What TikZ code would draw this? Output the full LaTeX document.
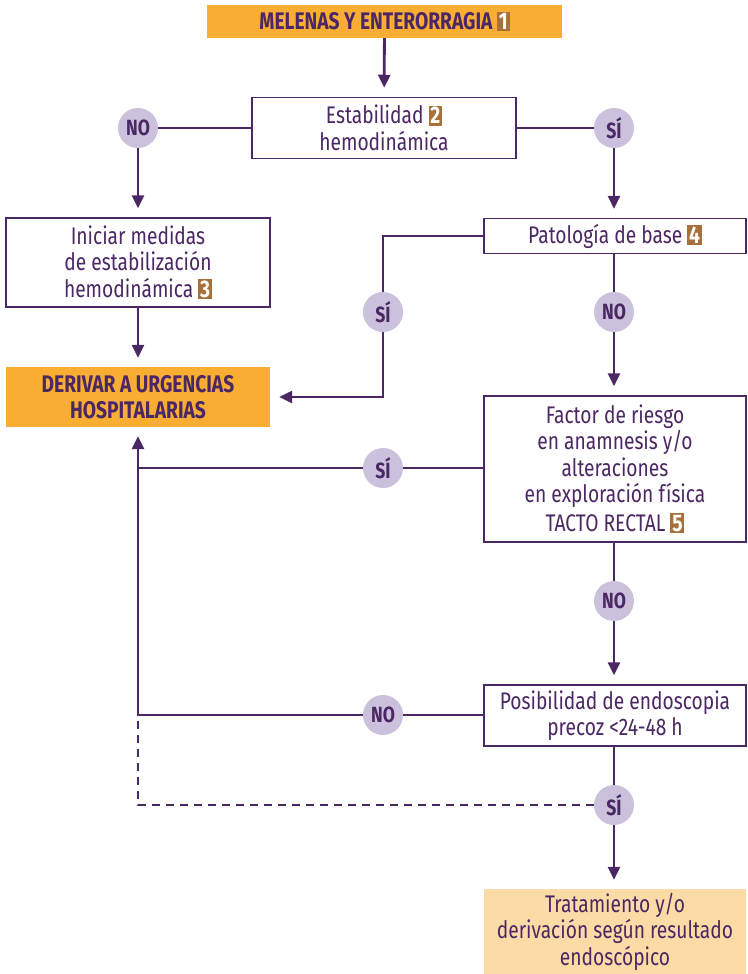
\documentclass[tikz,border=0pt]{standalone}
\usepackage{fontspec}
\setmainfont{Fira Sans}[FakeStretch=0.8,BoldFeatures={FakeStretch=0.8}]
\usetikzlibrary{arrows.meta}
\definecolor{ink}{HTML}{4B2763}
\definecolor{orangebox}{HTML}{F9AE33}
\definecolor{paleorange}{HTML}{FDDBA6}
\definecolor{lavender}{HTML}{CBC1DD}
\definecolor{badgebrown}{HTML}{A8703A}
\newcommand{\badge}[1]{{\setlength{\fboxsep}{1.8pt}\colorbox{badgebrown}{\textcolor{white}{\bfseries #1}}}}
\begin{document}
\begin{tikzpicture}[x=1pt,y=-1pt,
  every node/.style={font=\fontsize{24}{26.5}\selectfont, text=ink, align=center, inner sep=0pt},
  whitebox/.style={draw=ink, line width=1.5pt, fill=white, minimum width=#1},
  whitebox/.default=262pt,
  orangebox/.style={fill=orangebox, font=\fontsize{24}{26}\selectfont\bfseries},
  answer/.style={circle, fill=lavender, minimum size=40pt, font=\fontsize{22}{24}\selectfont\bfseries},
  link/.style={draw=ink, line width=2.8pt},
  flow/.style={link, -{Triangle[length=13pt,width=12pt]}, shorten >=9pt},
  hint/.style={link, dash pattern=on 8pt off 6pt}]
\useasboundingbox (0,0) rectangle (747,974);

% boxes
\node[orangebox, minimum width=355pt, minimum height=33pt] (top) at (384.5,21.5) {MELENAS Y ENTERORRAGIA \badge{1}};
\node[whitebox=264pt, minimum height=61pt] (estab) at (384,128) {Estabilidad \badge{2}\\hemodinámica};
\node[whitebox=264pt, minimum height=89pt] (inic) at (138,262.5) {Iniciar medidas\\de estabilización\\hemodinámica \badge{3}};
\node[orangebox, minimum width=264pt, minimum height=60pt] (deriv) at (138,397) {DERIVAR A URGENCIAS\\HOSPITALARIAS};
\node[whitebox, minimum height=35pt] (patol) at (615,236) {Patología de base \badge{4}};
\node[whitebox, minimum height=146pt] (factor) at (615,469) {Factor de riesgo\\en anamnesis y/o\\alteraciones\\en exploración física\\[2pt]TACTO RECTAL \badge{5}};
\node[whitebox, minimum height=61pt] (posib) at (615,715.5) {Posibilidad de endoscopia\\precoz <24-48 h};
\node[fill=paleorange, minimum width=262pt, minimum height=85pt] (trat) at (615,931.5) {Tratamiento y/o\\derivación según resultado\\endoscópico};

% answer circles
\node[answer] (no1) at (138,128) {NO};
\node[answer] (si1) at (614,128) {SÍ};
\node[answer] (si2) at (383,312) {SÍ};
\node[answer] (no2) at (614,312) {NO};
\node[answer] (si3) at (383,468) {SÍ};
\node[answer] (no3) at (614,601) {NO};
\node[answer] (no4) at (383,715) {NO};
\node[answer] (si4) at (614,805) {SÍ};

\coordinate (bend) at (383,236);
\coordinate (joinA) at (138,468);
\coordinate (joinB) at (138,715);

% connectors
\draw[flow] (top) -- (estab);
\draw[link] (estab.west |- no1) -- (no1);
\draw[link] (estab.east |- si1) -- (si1);
\draw[flow] (no1) -- (inic);
\draw[flow] (inic) -- (deriv);
\draw[flow] (si1) -- (si1 |- patol.north);
\draw[link] (patol.west |- bend) -- (bend) -- (si2);
\draw[flow] (si2) |- (deriv.east);
\draw[link] (patol.south -| no2) -- (no2);
\draw[flow] (no2) -- (no2 |- factor.north);
\draw[link] (factor.west |- si3) -- (si3) -- (joinA);
\draw[link] (factor.south -| no3) -- (no3);
\draw[flow] (no3) -- (no3 |- posib.north);
\draw[link] (posib.west |- no4) -- (no4);
\draw[flow] (no4) -- (joinB) -- (deriv.south);
\draw[link] (posib.south -| si4) -- (si4);
\draw[hint] (si4) -| (joinB);
\draw[flow] (si4) -- (si4 |- trat.north);
\end{tikzpicture}
\end{document}
